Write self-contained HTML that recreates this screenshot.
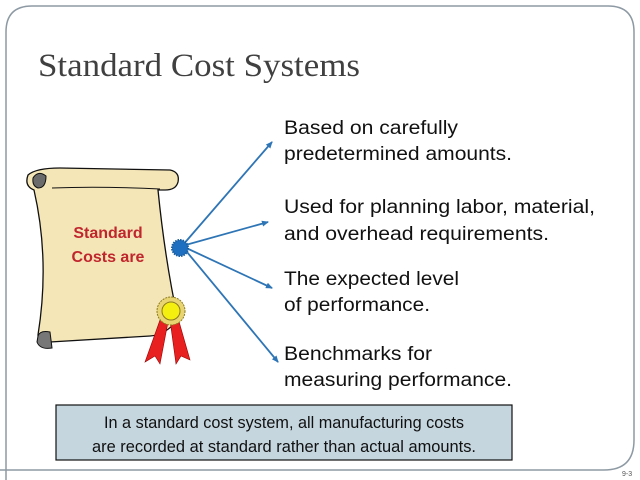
<!DOCTYPE html>
<html><head><meta charset="utf-8"><style>
html,body{margin:0;padding:0;background:#fff;width:640px;height:480px;overflow:hidden}
svg{display:block}
</style></head><body>
<svg width="640" height="480" viewBox="0 0 640 480" xmlns="http://www.w3.org/2000/svg">
<defs>
<marker id="ah" markerWidth="8" markerHeight="8" refX="6" refY="3" orient="auto" markerUnits="userSpaceOnUse">
<path d="M0,0 L7,3 L0,6 Z" fill="#2e75b6"/></marker>
</defs>
<path d="M6,480 L6,32 Q6,6 32,6 L608,6 Q634,6 634,32 L634,440 Q634,470 604,470 L0,470" fill="none" stroke="#8d99a3" stroke-width="1.5"/>
<text x="38" y="76" font-family="Liberation Serif, serif" font-size="33" fill="#404040" textLength="322" lengthAdjust="spacingAndGlyphs">Standard Cost Systems</text>
<!-- scroll -->
<path d="M28,175 Q36,168 60,168 L170,170 Q180,172 178,182 Q176,190 165,190 L158,190 Q165,260 178,320 Q165,335 150,336 L50,342 Q38,345 38,335 Q50,260 34,190 Q24,186 28,175 Z" fill="#f5e6b8" stroke="#111" stroke-width="1.3"/>
<path d="M33,178 Q38,170 46,176 Q46,188 38,188 Q32,186 33,178 Z" fill="#6b6b6b" stroke="#111"/>
<path d="M52,188 Q100,186 160,189" fill="none" stroke="#111" stroke-width="1"/>
<path d="M38,336 Q40,330 50,332 L52,348 Q40,350 37,342 Z" fill="#777" stroke="#111"/>
<text x="108" y="238" text-anchor="middle" font-family="Liberation Sans, sans-serif" font-weight="bold" font-size="16" fill="#c0262d">Standard</text>
<text x="108" y="262" text-anchor="middle" font-family="Liberation Sans, sans-serif" font-weight="bold" font-size="16" fill="#c0262d">Costs are</text>
<!-- ribbon -->
<path d="M160,320 L145,362 L155,356 L160,364 L168,322 Z" fill="#e82020" stroke="#900" stroke-width="0.6"/>
<path d="M170,320 L176,364 L181,356 L190,360 L178,318 Z" fill="#e82020" stroke="#900" stroke-width="0.6"/>
<circle cx="171" cy="311" r="14" fill="#e8d470" stroke="#8a7a20" stroke-dasharray="2 1"/>
<circle cx="171" cy="311" r="9" fill="#f5ef10" stroke="#8a7a20"/>
<!-- arrows -->
<g stroke="#2e75b6" stroke-width="1.8" marker-end="url(#ah)">
<line x1="182" y1="246" x2="272" y2="142"/>
<line x1="182" y1="246" x2="268" y2="222"/>
<line x1="182" y1="246" x2="272" y2="288"/>
<line x1="182" y1="246" x2="278" y2="362"/>
</g>
<circle cx="180" cy="248" r="8" fill="#1f6fc0" stroke="#1a5fa0" stroke-width="2" stroke-dasharray="1.5 1"/>
<g font-family="Liberation Sans, sans-serif" font-size="19" fill="#111" lengthAdjust="spacingAndGlyphs">
<text x="284" y="134" textLength="174" lengthAdjust="spacingAndGlyphs">Based on carefully</text>
<text x="284" y="160" textLength="228" lengthAdjust="spacingAndGlyphs">predetermined amounts.</text>
<text x="284" y="213" textLength="311" lengthAdjust="spacingAndGlyphs">Used for planning labor, material,</text>
<text x="284" y="240" textLength="265" lengthAdjust="spacingAndGlyphs">and overhead requirements.</text>
<text x="284" y="285" textLength="175" lengthAdjust="spacingAndGlyphs">The expected level</text>
<text x="284" y="311" textLength="146" lengthAdjust="spacingAndGlyphs">of performance.</text>
<text x="284" y="360" textLength="148" lengthAdjust="spacingAndGlyphs">Benchmarks for</text>
<text x="284" y="386" textLength="228" lengthAdjust="spacingAndGlyphs">measuring performance.</text>
</g>
<rect x="56" y="405" width="456" height="55" fill="#c5d6df" stroke="#111" stroke-width="1.2"/>
<g font-family="Liberation Sans, sans-serif" font-size="17" fill="#111" text-anchor="middle">
<text x="284" y="428" textLength="360" lengthAdjust="spacingAndGlyphs">In a standard cost system, all manufacturing costs</text>
<text x="284" y="452" textLength="384" lengthAdjust="spacingAndGlyphs">are recorded at standard rather than actual amounts.</text>
</g>
<text x="622" y="476" font-family="Liberation Sans, sans-serif" font-size="7" fill="#555">9-3</text>
</svg>
</body></html>
